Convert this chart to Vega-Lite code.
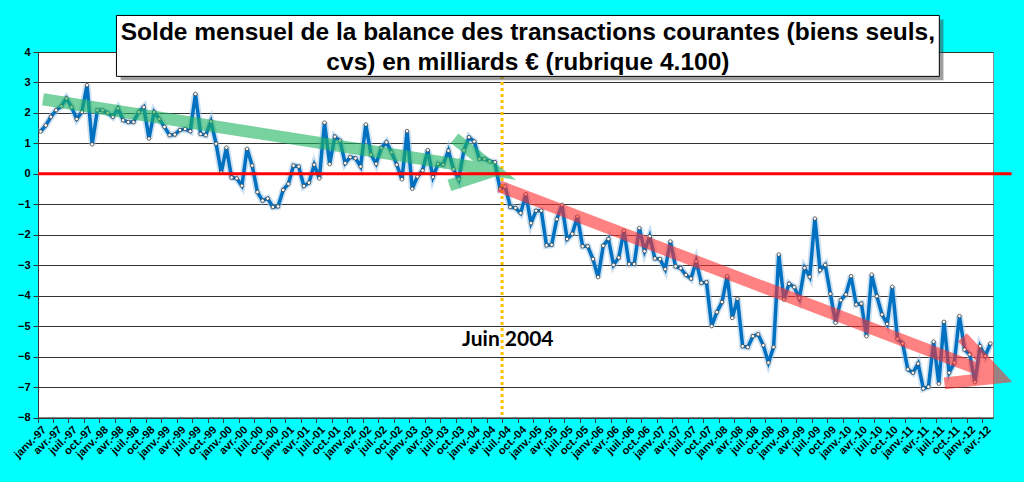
{
  "$schema": "https://vega.github.io/schema/vega-lite/v6.json",
  "width": 955,
  "height": 365.5,
  "autosize": {"type": "none"},
  "padding": {"left": 38, "top": 52, "right": 31, "bottom": 64},
  "background": "#00ffff",
  "config": {
    "view": {"fill": "white", "stroke": "#8c8c8c"},
    "axisY": {
      "tickCount": 12,
      "grid": true,
      "gridColor": "#333333",
      "gridOpacity": 1,
      "domainColor": "#333333",
      "tickColor": "#333333",
      "tickSize": 5,
      "labelFont": "Liberation Sans",
      "labelFontWeight": "bold",
      "labelFontSize": 11,
      "labelColor": "#000000",
      "labelPadding": 3
    }
  },
  "datasets": {
    "serie": [
      {"mois": "janv.-97", "solde": 1.39}, {"mois": "févr.-97", "solde": 1.59}, {"mois": "mars-97", "solde": 1.87},
      {"mois": "avr.-97", "solde": 2.09}, {"mois": "mai-97", "solde": 2.22}, {"mois": "juin-97", "solde": 2.48},
      {"mois": "juil.-97", "solde": 2.19}, {"mois": "août-97", "solde": 1.80}, {"mois": "sept.-97", "solde": 2.03},
      {"mois": "oct.-97", "solde": 2.91}, {"mois": "nov.-97", "solde": 0.97}, {"mois": "déc.-97", "solde": 2.09},
      {"mois": "janv.-98", "solde": 2.09}, {"mois": "févr.-98", "solde": 2.00}, {"mois": "mars-98", "solde": 1.87},
      {"mois": "avr.-98", "solde": 2.15}, {"mois": "mai-98", "solde": 1.76}, {"mois": "juin-98", "solde": 1.70},
      {"mois": "juil.-98", "solde": 1.70}, {"mois": "août-98", "solde": 2.03}, {"mois": "sept.-98", "solde": 2.19},
      {"mois": "oct.-98", "solde": 1.16}, {"mois": "nov.-98", "solde": 2.03}, {"mois": "déc.-98", "solde": 1.80},
      {"mois": "janv.-99", "solde": 1.54}, {"mois": "févr.-99", "solde": 1.27}, {"mois": "mars-99", "solde": 1.29},
      {"mois": "avr.-99", "solde": 1.44}, {"mois": "mai-99", "solde": 1.47}, {"mois": "juin-99", "solde": 1.40},
      {"mois": "juil.-99", "solde": 2.62}, {"mois": "août-99", "solde": 1.31}, {"mois": "sept.-99", "solde": 1.27},
      {"mois": "oct.-99", "solde": 1.72}, {"mois": "nov.-99", "solde": 0.99}, {"mois": "déc.-99", "solde": 0.04},
      {"mois": "janv.-00", "solde": 0.86}, {"mois": "févr.-00", "solde": -0.12}, {"mois": "mars-00", "solde": -0.15},
      {"mois": "avr.-00", "solde": -0.39}, {"mois": "mai-00", "solde": 0.82}, {"mois": "juin-00", "solde": 0.27},
      {"mois": "juil.-00", "solde": -0.60}, {"mois": "août-00", "solde": -0.88}, {"mois": "sept.-00", "solde": -0.81},
      {"mois": "oct.-00", "solde": -1.09}, {"mois": "nov.-00", "solde": -1.07}, {"mois": "déc.-00", "solde": -0.53},
      {"mois": "janv.-01", "solde": -0.33}, {"mois": "févr.-01", "solde": 0.27}, {"mois": "mars-01", "solde": 0.24},
      {"mois": "avr.-01", "solde": -0.40}, {"mois": "mai-01", "solde": -0.29}, {"mois": "juin-01", "solde": 0.30},
      {"mois": "juil.-01", "solde": -0.15}, {"mois": "août-01", "solde": 1.68}, {"mois": "sept.-01", "solde": 0.32},
      {"mois": "oct.-01", "solde": 1.22}, {"mois": "nov.-01", "solde": 1.09}, {"mois": "déc.-01", "solde": 0.35},
      {"mois": "janv.-02", "solde": 0.55}, {"mois": "févr.-02", "solde": 0.51}, {"mois": "mars-02", "solde": 0.24},
      {"mois": "avr.-02", "solde": 1.62}, {"mois": "mai-02", "solde": 0.63}, {"mois": "juin-02", "solde": 0.33},
      {"mois": "juil.-02", "solde": 0.85}, {"mois": "août-02", "solde": 1.04}, {"mois": "sept.-02", "solde": 0.71},
      {"mois": "oct.-02", "solde": 0.30}, {"mois": "nov.-02", "solde": -0.18}, {"mois": "déc.-02", "solde": 1.40},
      {"mois": "janv.-03", "solde": -0.49}, {"mois": "févr.-03", "solde": -0.09}, {"mois": "mars-03", "solde": 0.11},
      {"mois": "avr.-03", "solde": 0.78}, {"mois": "mai-03", "solde": -0.11}, {"mois": "juin-03", "solde": 0.33},
      {"mois": "juil.-03", "solde": 0.30}, {"mois": "août-03", "solde": 0.76}, {"mois": "sept.-03", "solde": 0.15},
      {"mois": "oct.-03", "solde": -0.18}, {"mois": "nov.-03", "solde": 0.77}, {"mois": "déc.-03", "solde": 1.20},
      {"mois": "janv.-04", "solde": 1.06}, {"mois": "févr.-04", "solde": 0.49}, {"mois": "mars-04", "solde": 0.49},
      {"mois": "avr.-04", "solde": 0.41}, {"mois": "mai-04", "solde": 0.38}, {"mois": "juin-04", "solde": -0.50},
      {"mois": "juil.-04", "solde": -0.42}, {"mois": "août-04", "solde": -1.09}, {"mois": "sept.-04", "solde": -1.12},
      {"mois": "oct.-04", "solde": -1.29}, {"mois": "nov.-04", "solde": -0.67}, {"mois": "déc.-04", "solde": -1.62},
      {"mois": "janv.-05", "solde": -1.21}, {"mois": "févr.-05", "solde": -1.21}, {"mois": "mars-05", "solde": -2.35},
      {"mois": "avr.-05", "solde": -2.33}, {"mois": "mai-05", "solde": -1.49}, {"mois": "juin-05", "solde": -1.02},
      {"mois": "juil.-05", "solde": -2.14}, {"mois": "août-05", "solde": -1.97}, {"mois": "sept.-05", "solde": -1.40},
      {"mois": "oct.-05", "solde": -2.38}, {"mois": "nov.-05", "solde": -2.38}, {"mois": "déc.-05", "solde": -2.80},
      {"mois": "janv.-06", "solde": -3.39}, {"mois": "févr.-06", "solde": -2.36}, {"mois": "mars-06", "solde": -2.14},
      {"mois": "avr.-06", "solde": -2.99}, {"mois": "mai-06", "solde": -2.75}, {"mois": "juin-06", "solde": -1.87},
      {"mois": "juil.-06", "solde": -2.96}, {"mois": "août-06", "solde": -2.96}, {"mois": "sept.-06", "solde": -1.78},
      {"mois": "oct.-06", "solde": -2.54}, {"mois": "nov.-06", "solde": -2.05}, {"mois": "déc.-06", "solde": -2.78},
      {"mois": "janv.-07", "solde": -2.80}, {"mois": "févr.-07", "solde": -3.13}, {"mois": "mars-07", "solde": -2.22},
      {"mois": "avr.-07", "solde": -3.04}, {"mois": "mai-07", "solde": -3.10}, {"mois": "juin-07", "solde": -3.32},
      {"mois": "juil.-07", "solde": -3.44}, {"mois": "août-07", "solde": -2.87}, {"mois": "sept.-07", "solde": -3.58},
      {"mois": "oct.-07", "solde": -3.56}, {"mois": "nov.-07", "solde": -5.00}, {"mois": "déc.-07", "solde": -4.54},
      {"mois": "janv.-08", "solde": -4.21}, {"mois": "févr.-08", "solde": -3.36}, {"mois": "mars-08", "solde": -4.73},
      {"mois": "avr.-08", "solde": -4.10}, {"mois": "mai-08", "solde": -5.66}, {"mois": "juin-08", "solde": -5.69},
      {"mois": "juil.-08", "solde": -5.33}, {"mois": "août-08", "solde": -5.27}, {"mois": "sept.-08", "solde": -5.63},
      {"mois": "oct.-08", "solde": -6.20}, {"mois": "nov.-08", "solde": -5.69}, {"mois": "déc.-08", "solde": -2.65},
      {"mois": "janv.-09", "solde": -4.13}, {"mois": "févr.-09", "solde": -3.61}, {"mois": "mars-09", "solde": -3.72},
      {"mois": "avr.-09", "solde": -4.08}, {"mois": "mai-09", "solde": -3.09}, {"mois": "juin-09", "solde": -3.38},
      {"mois": "juil.-09", "solde": -1.47}, {"mois": "août-09", "solde": -3.16}, {"mois": "sept.-09", "solde": -2.99},
      {"mois": "oct.-09", "solde": -3.94}, {"mois": "nov.-09", "solde": -4.89}, {"mois": "déc.-09", "solde": -4.15},
      {"mois": "janv.-10", "solde": -3.96}, {"mois": "févr.-10", "solde": -3.36}, {"mois": "mars-10", "solde": -4.29},
      {"mois": "avr.-10", "solde": -4.26}, {"mois": "mai-10", "solde": -5.33}, {"mois": "juin-10", "solde": -3.31},
      {"mois": "juil.-10", "solde": -4.02}, {"mois": "août-10", "solde": -4.62}, {"mois": "sept.-10", "solde": -4.93},
      {"mois": "oct.-10", "solde": -3.71}, {"mois": "nov.-10", "solde": -5.42}, {"mois": "déc.-10", "solde": -5.57},
      {"mois": "janv.-11", "solde": -6.42}, {"mois": "févr.-11", "solde": -6.53}, {"mois": "mars-11", "solde": -6.23},
      {"mois": "avr.-11", "solde": -7.05}, {"mois": "mai-11", "solde": -6.99}, {"mois": "juin-11", "solde": -5.51},
      {"mois": "juil.-11", "solde": -6.89}, {"mois": "août-11", "solde": -4.86}, {"mois": "sept.-11", "solde": -6.53},
      {"mois": "oct.-11", "solde": -6.20}, {"mois": "nov.-11", "solde": -4.67}, {"mois": "déc.-11", "solde": -5.77},
      {"mois": "janv.-12", "solde": -5.93}, {"mois": "févr.-12", "solde": -6.84}, {"mois": "mars-12", "solde": -5.66},
      {"mois": "avr.-12", "solde": -5.98}, {"mois": "mai-12", "solde": -5.57}
    ],
    "fleches": [
      {"fleche": "verte", "k": 0, "x": 0.97, "y": 2.45},
      {"fleche": "verte", "k": 1, "x": 88.5, "y": 0.11},
      {"fleche": "verte", "k": 2, "x": 80.7, "y": 1.17},
      {"fleche": "verte", "k": 3, "x": 88.5, "y": 0.11},
      {"fleche": "verte", "k": 4, "x": 79.7, "y": -0.38},
      {"fleche": "rouge", "k": 0, "x": 89.4, "y": -0.41},
      {"fleche": "rouge", "k": 1, "x": 186.3, "y": -6.68},
      {"fleche": "rouge", "k": 2, "x": 179.1, "y": -5.37},
      {"fleche": "rouge", "k": 3, "x": 186.3, "y": -6.68},
      {"fleche": "rouge", "k": 4, "x": 175.6, "y": -6.88}
    ]
  },
  "layer": [
    {
      "data": {"name": "serie"},
      "encoding": {
        "x": {
          "field": "mois",
          "type": "ordinal",
          "sort": null,
          "bandPosition": 0.5,
          "scale": {"type": "band", "paddingInner": 0, "paddingOuter": 0},
          "axis": {
            "title": null,
            "bandPosition": 0,
            "values": [
              "janv.-97", "avr.-97", "juil.-97", "oct.-97", "janv.-98", "avr.-98", "juil.-98", "oct.-98",
              "janv.-99", "avr.-99", "juil.-99", "oct.-99", "janv.-00", "avr.-00", "juil.-00", "oct.-00",
              "janv.-01", "avr.-01", "juil.-01", "oct.-01", "janv.-02", "avr.-02", "juil.-02", "oct.-02",
              "janv.-03", "avr.-03", "juil.-03", "oct.-03", "janv.-04", "avr.-04", "juil.-04", "oct.-04",
              "janv.-05", "avr.-05", "juil.-05", "oct.-05", "janv.-06", "avr.-06", "juil.-06", "oct.-06",
              "janv.-07", "avr.-07", "juil.-07", "oct.-07", "janv.-08", "avr.-08", "juil.-08", "oct.-08",
              "janv.-09", "avr.-09", "juil.-09", "oct.-09", "janv.-10", "avr.-10", "juil.-10", "oct.-10",
              "janv.-11", "avr.-11", "juil.-11", "oct.-11", "janv.-12", "avr.-12"
            ],
            "labelAngle": -45,
            "labelFont": "Liberation Sans",
            "labelFontWeight": "bold",
            "labelFontSize": 11,
            "labelColor": "#000000",
            "labelPadding": 1,
            "tickSize": 5,
            "tickColor": "#404040",
            "domainColor": "#404040",
            "grid": false
          }
        },
        "y": {
          "field": "solde",
          "type": "quantitative",
          "scale": {"domain": [-8, 4], "nice": false, "zero": false},
          "axis": {"title": null}
        }
      },
      "layer": [
        {"mark": {"type": "line", "color": "#9cc3e5", "strokeWidth": 7, "opacity": 0.5}},
        {"mark": {"type": "line", "color": "#0070c0", "strokeWidth": 3.5}},
        {"mark": {"type": "point", "shape": "circle", "filled": true, "fill": "white", "stroke": "#404040", "strokeWidth": 0.8, "size": 13, "opacity": 1}}
      ]
    },
    {
      "layer": [
        {
          "data": {"values": [{}]},
          "mark": {"type": "rule", "color": "#ffc000", "strokeWidth": 3, "strokeDash": [3, 3]},
          "encoding": {
            "x": {"datum": 89.9, "type": "quantitative", "scale": {"domain": [0, 185], "nice": false, "zero": false}, "axis": null},
            "y": {"datum": 4, "type": "quantitative", "axis": {"title": null}},
            "y2": {"datum": -8}
          }
        },
        {
          "data": {"name": "fleches"},
          "mark": {"type": "line", "strokeWidth": 12, "strokeJoin": "miter", "strokeCap": "butt", "opacity": 0.6},
          "encoding": {
            "x": {"field": "x", "type": "quantitative", "axis": null},
            "y": {"field": "y", "type": "quantitative", "axis": {"title": null}},
            "color": {"field": "fleche", "type": "nominal", "scale": {"domain": ["verte", "rouge"], "range": ["#1eb461", "#ff2f2f"]}, "legend": null},
            "order": {"field": "k"}
          }
        },
        {
          "data": {"values": [{}]},
          "mark": {"type": "rule", "color": "#ff0000", "strokeWidth": 3},
          "encoding": {
            "x": {"datum": 0, "type": "quantitative", "axis": null},
            "x2": {"datum": 188.6},
            "y": {"datum": 0, "type": "quantitative", "axis": {"title": null}}
          }
        },
        {
          "data": {"values": [{}]},
          "mark": {"type": "rect", "fill": "#404040", "opacity": 0.5},
          "encoding": {
            "x": {"datum": 16.0, "type": "quantitative", "axis": null},
            "x2": {"datum": 175.4},
            "y": {"datum": 5.07, "type": "quantitative", "axis": {"title": null}},
            "y2": {"datum": 3.07}
          }
        },
        {
          "data": {"values": [{}]},
          "mark": {"type": "rect", "fill": "white", "stroke": "#000000", "strokeWidth": 1},
          "encoding": {
            "x": {"datum": 15.2, "type": "quantitative", "axis": null},
            "x2": {"datum": 174.6},
            "y": {"datum": 5.2, "type": "quantitative", "axis": {"title": null}},
            "y2": {"datum": 3.2}
          }
        },
        {
          "data": {"values": [{}]},
          "mark": {
            "type": "text",
            "text": "Solde mensuel de la balance des transactions courantes (biens seuls,\ncvs) en milliards € (rubrique 4.100)",
            "lineBreak": "\n",
            "lineHeight": 30,
            "font": "Liberation Sans",
            "fontWeight": "bold",
            "fontSize": 24.5,
            "align": "center",
            "baseline": "middle",
            "color": "#000000"
          },
          "encoding": {
            "x": {"datum": 94.9, "type": "quantitative", "axis": null},
            "y": {"datum": 4.61, "type": "quantitative", "axis": {"title": null}}
          }
        },
        {
          "data": {"values": [{}]},
          "mark": {
            "type": "text",
            "text": "Juin 2004",
            "font": "Lato",
            "fontWeight": "bold",
            "fontSize": 21,
            "align": "center",
            "baseline": "middle",
            "color": "#000000"
          },
          "encoding": {
            "x": {"datum": 91, "type": "quantitative", "axis": null},
            "y": {"datum": -5.45, "type": "quantitative", "axis": {"title": null}}
          }
        }
      ]
    }
  ],
  "resolve": {"scale": {"x": "independent"}}
}
